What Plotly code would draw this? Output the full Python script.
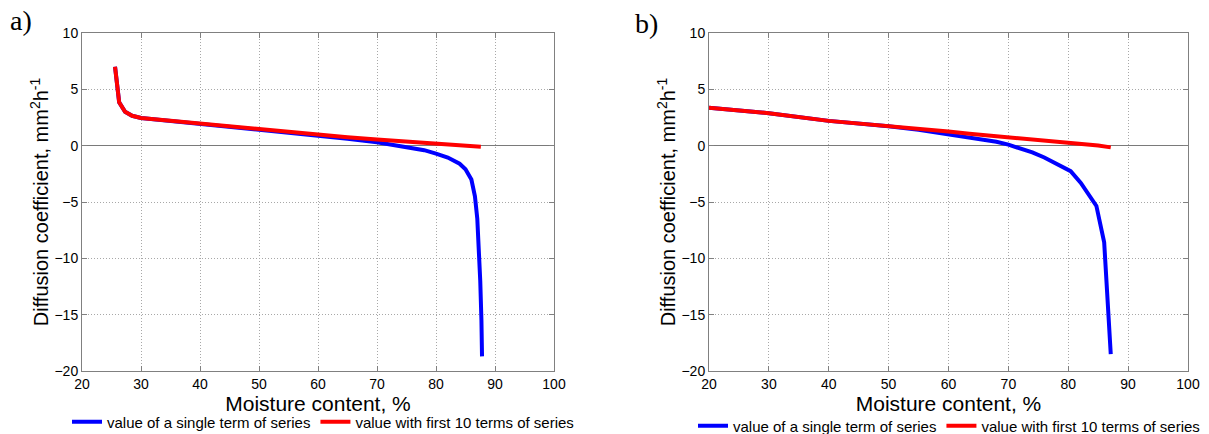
import plotly.graph_objects as go

# Panel a data
a_single_x = [25.6, 26.3, 27.3, 28.5, 30, 35, 40, 45, 50, 55, 60, 65, 70, 73, 76, 78, 80, 82, 84, 85, 86, 86.6, 87.0, 87.3, 87.5, 87.7, 87.8]
a_single_y = [7.0, 3.85, 3.0, 2.65, 2.45, 2.2, 1.93, 1.68, 1.42, 1.15, 0.9, 0.62, 0.3, 0.05, -0.2, -0.4, -0.7, -1.05, -1.6, -2.1, -3.0, -4.5, -6.5, -9.0, -12.0, -15.5, -18.7]
a_ten_x = [25.6, 26.3, 27.3, 28.5, 30, 35, 40, 45, 50, 55, 60, 65, 70, 75, 80, 85, 87.6]
a_ten_y = [7.0, 3.85, 3.0, 2.65, 2.45, 2.2, 1.93, 1.68, 1.42, 1.17, 0.95, 0.75, 0.55, 0.38, 0.2, 0.05, -0.1]

# Panel b data
b_single_x = [20, 30, 40, 50, 55, 60, 63.5, 66, 68, 70, 72, 74, 76, 78, 80.4, 82.1, 83.5, 84.7, 86.0, 87.1]
b_single_y = [3.37, 2.88, 2.2, 1.73, 1.4, 1.02, 0.76, 0.55, 0.35, 0.09, -0.25, -0.6, -1.05, -1.6, -2.26, -3.3, -4.4, -5.35, -8.57, -18.5]
b_ten_x = [20, 30, 40, 50, 60, 63.5, 70, 75, 80, 85, 87.1]
b_ten_y = [3.37, 2.88, 2.2, 1.76, 1.26, 1.06, 0.77, 0.52, 0.29, 0.02, -0.15]

names = ["value of a single term of series", "value with first 10 terms of series"]
x_ticks = [20, 30, 40, 50, 60, 70, 80, 90, 100]
y_ticks = [-20, -15, -10, -5, 0, 5, 10]

BLUE = "#0000ff"
RED = "#ff0000"
W = 1209
H = 434

fig = go.Figure()
fig.add_trace(go.Scatter(x=a_single_x, y=a_single_y, mode="lines", name=names[0],
                         line=dict(color=BLUE, width=4), xaxis="x", yaxis="y", legend="legend"))
fig.add_trace(go.Scatter(x=a_ten_x, y=a_ten_y, mode="lines", name=names[1],
                         line=dict(color=RED, width=4), xaxis="x", yaxis="y", legend="legend"))
fig.add_trace(go.Scatter(x=b_single_x, y=b_single_y, mode="lines", name=names[0],
                         line=dict(color=BLUE, width=4), xaxis="x2", yaxis="y2", legend="legend2"))
fig.add_trace(go.Scatter(x=b_ten_x, y=b_ten_y, mode="lines", name=names[1],
                         line=dict(color=RED, width=4), xaxis="x2", yaxis="y2", legend="legend2"))

AX_COLOR = "#808080"
GRID_COLOR = "#a8a8a8"
tickfont = dict(family="Liberation Sans, Arial", size=14, color="black")
titlefont = dict(family="Liberation Sans, Arial", size=21, color="black")

def xax(domain, anchor):
    return dict(domain=domain, anchor=anchor, range=[20, 100], tickvals=x_ticks,
                showline=True, linecolor=AX_COLOR, linewidth=1, mirror="ticks",
                ticks="inside", ticklen=5, tickcolor=AX_COLOR,
                showgrid=True, gridcolor=GRID_COLOR, griddash="1px,2px", gridwidth=1,
                zeroline=False, tickfont=tickfont, automargin=False,
                title=dict(text="Moisture content, %", font=titlefont, standoff=3))

def yax(domain, anchor):
    return dict(domain=domain, anchor=anchor, range=[-20, 10], tickvals=y_ticks,
                showline=True, linecolor=AX_COLOR, linewidth=1, mirror="ticks",
                ticks="inside", ticklen=5, tickcolor=AX_COLOR,
                showgrid=True, gridcolor=GRID_COLOR, griddash="1px,2px", gridwidth=1,
                zeroline=True, zerolinecolor="#7a7a7a", zerolinewidth=1,
                tickfont=tickfont, automargin=False,
                title=dict(text="Diffusion coefficient, mm<sup>2</sup>h<sup>-1</sup>",
                           font=dict(family="Liberation Sans, Arial", size=20, color="black"), standoff=0))

ydom = [(H - 371) / H, (H - 33) / H]
legfont = dict(family="Liberation Sans, Arial", size=15, color="black")
fig.update_layout(
    width=W, height=H,
    margin=dict(l=0, r=0, t=0, b=0, autoexpand=False),
    paper_bgcolor="white", plot_bgcolor="white",
    xaxis=xax([82 / W, 554 / W], "y"),
    yaxis=yax(ydom, "x"),
    xaxis2=xax([709 / W, 1188 / W], "y2"),
    yaxis2=yax(ydom, "x2"),
    legend=dict(orientation="h", x=67 / W, xanchor="left", y=(H - 422) / H, yanchor="middle",
                font=legfont, bgcolor="rgba(0,0,0,0)", itemwidth=30, tracegroupgap=0),
    legend2=dict(orientation="h", x=693 / W, xanchor="left", y=(H - 426) / H, yanchor="middle",
                 font=legfont, bgcolor="rgba(0,0,0,0)", itemwidth=30, tracegroupgap=0),
    showlegend=True,
    annotations=[
        dict(text="a)", x=8 / W, y=(H - 21) / H, xref="paper", yref="paper", xanchor="left", yanchor="middle",
             showarrow=False, font=dict(family="Liberation Serif, Times New Roman", size=28, color="black")),
        dict(text="b)", x=633 / W, y=(H - 23) / H, xref="paper", yref="paper", xanchor="left", yanchor="middle",
             showarrow=False, font=dict(family="Liberation Serif, Times New Roman", size=28, color="black")),
    ],
)

fig.write_html("out.html", config={"displayModeBar": False},
               post_script="document.body.style.margin='0px';document.body.style.overflow='hidden';")
